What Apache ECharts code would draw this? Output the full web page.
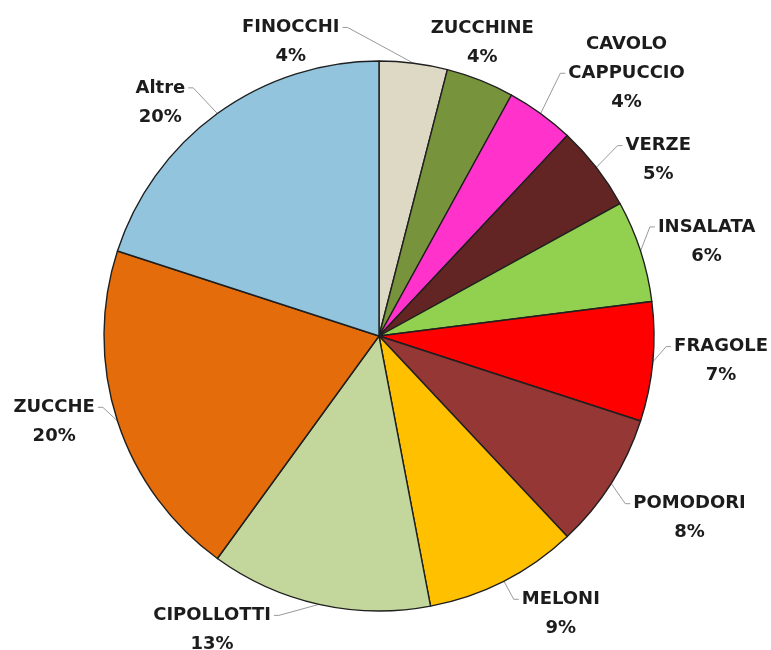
<!DOCTYPE html>
<html>
<head>
<meta charset="utf-8">
<script src="https://cdn.jsdelivr.net/npm/echarts@6/dist/echarts.min.js"></script>
<style>
  html, body { margin: 0; padding: 0; background: #ffffff; }
  #chart { width: 771px; height: 650px; }
</style>
</head>
<body>
<div id="chart"></div>
<script>
// Vegetable shares, clockwise from 12 o'clock (%)
const categories = ['FINOCCHI', 'ZUCCHINE', 'CAVOLO CAPPUCCIO', 'VERZE', 'INSALATA', 'FRAGOLE',
                    'POMODORI', 'MELONI', 'CIPOLLOTTI', 'ZUCCHE', 'Altre'];
const shares = [4, 4, 4, 5, 6, 7, 8, 9, 13, 20, 20];

const sliceColors = ['#DDD9C4', '#77933C', '#FF33CC', '#632523', '#92D050', '#FF0000',
                     '#953735', '#FFC000', '#C3D69B', '#E46C0A', '#92C4DE'];

// Where each label block sits around the pie:
// [degrees clockwise from 12 o'clock, distance of the block centre from the pie centre]
const labelSpots = [[343.3, 307], [19.4, 311], [43.3, 361], [57.8, 330], [73.9, 341], [94.2, 343],
                    [120.4, 360], [146.8, 332], [209.6, 338], [255.2, 336], [316.9, 320]];

const CX = 379, CY = 336, R = 275, LINE_H = 29;

function polar(angleDeg, dist) {
  const a = angleDeg * Math.PI / 180;
  return [CX + dist * Math.sin(a), CY - dist * Math.cos(a)];
}

const total = shares.reduce((s, v) => s + v, 0);
const midAngles = [];
let acc = 0;
shares.forEach(v => { midAngles.push((acc + v / 2) / total * 360); acc += v; });

const chart = echarts.init(document.getElementById('chart'), null, { renderer: 'canvas' });

chart.setOption({
  backgroundColor: '#ffffff',
  animation: false,
  series: [{
    type: 'pie',
    center: [CX, CY],
    radius: R,
    startAngle: 90,
    clockwise: true,
    avoidLabelOverlap: false,
    data: categories.map((name, i) => ({
      name: name,
      value: shares[i],
      itemStyle: { color: sliceColors[i] }
    })),
    itemStyle: { borderColor: '#1f1f1f', borderWidth: 1.4 },
    label: {
      show: true,
      position: 'outside',
      overflow: 'none',
      formatter: p => p.name.replace(' ', '\n') + '\n' + Math.round(p.percent) + '%',
      fontFamily: 'DejaVu Sans',
      fontWeight: 'bold',
      fontSize: 18,
      lineHeight: LINE_H,
      color: '#1c1c1c',
      align: 'center'
    },
    labelLine: {
      show: true,
      length: 10,
      length2: 5,
      smooth: false,
      lineStyle: { color: '#9a9a9a', width: 1 }
    },
    labelLayout: function (p) {
      const i = p.dataIndex;
      const spot = polar(labelSpots[i][0], labelSpots[i][1]);
      const lx = spot[0], ly = spot[1];
      const w = p.labelRect.width;
      const nLines = Math.max(1, Math.round(p.labelRect.height / LINE_H));
      const textTop = ly - nLines * LINE_H / 2;
      const left = lx - w / 2, right = lx + w / 2;
      const bottom = ly + nLines * LINE_H / 2;
      const start = polar(midAngles[i], R);
      // gap between the slice edge and the label block
      const gx = Math.max(left - start[0], 0, start[0] - right);
      const gy = Math.max(textTop - start[1], 0, start[1] - bottom);
      let pts;
      if (Math.hypot(gx, gy) < 12) {
        pts = [start, start];
      } else {
        const ey = textTop + (nLines - 1.5) * LINE_H;
        const toRight = start[0] < lx;
        const ex = toRight ? left - 3 : right + 3;
        const elbow = [toRight ? ex - 5 : ex + 5, ey];
        pts = [start, elbow, [ex, ey]];
      }
      return { x: lx, y: ly, align: 'center', verticalAlign: 'middle', labelLinePoints: pts };
    }
  }]
});
</script>
</body>
</html>
